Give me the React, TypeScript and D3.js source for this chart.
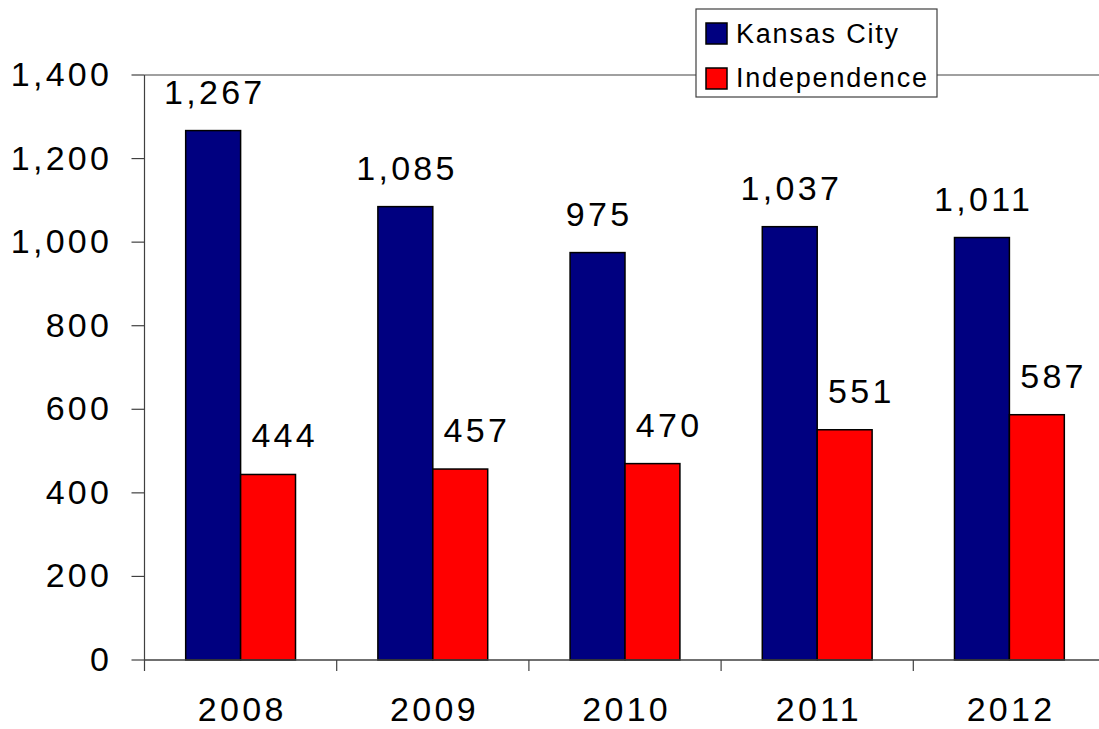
import React from "react";
import * as d3 from "d3";

const years = ["2008", "2009", "2010", "2011", "2012"];
const seriesNames = ["Kansas City", "Independence"];
const kansasCity = [1267, 1085, 975, 1037, 1011];
const independence = [444, 457, 470, 551, 587];
const seriesColors = ["#000080", "#FF0000"];
const yTicks = [0, 200, 400, 600, 800, 1000, 1200, 1400];

const W = 1099;
const H = 729;
const left = 144.5;
const right = 1105.5;
const top = 75;
const bottom = 660;

const FONT = "'Liberation Sans', Arial, sans-serif";
const FS = 34;
const LS = 3.3;
const labelShift = [0, 15];

export default function App() {
  const x0 = d3.scaleBand<string>().domain(years).range([left, right]).paddingInner(0).paddingOuter(0);
  const x1 = d3
    .scaleBand<string>()
    .domain(seriesNames)
    .range([0, x0.bandwidth()])
    .paddingInner(0)
    .paddingOuter(0.75);
  const y = d3.scaleLinear().domain([0, 1400]).range([bottom, top]);
  const fmt = d3.format(",");
  const values = [kansasCity, independence];
  const axisColor = "#808080";

  return (
    <svg
      width={W}
      height={H}
      style={{ position: "fixed", left: 0, top: 0, background: "#fff" }}
      fontFamily={FONT}
    >
      <rect x={0} y={0} width={W} height={H} fill="#fff" />
      {/* top border line */}
      <line x1={left} x2={W} y1={y(1400)} y2={y(1400)} stroke={axisColor} strokeWidth={1.5} />
      {/* left axis */}
      <line x1={left} x2={left} y1={top} y2={bottom + 11} stroke="#404040" strokeWidth={1.2} />
      {yTicks.map((t) => (
        <g key={t}>
          <line x1={left - 13} x2={left} y1={y(t)} y2={y(t)} stroke="#404040" strokeWidth={1.2} />
          <text
            x={109 + LS}
            y={y(t) + 11}
            textAnchor="end"
            fontSize={FS}
            letterSpacing={LS}
            fill="#000"
          >
            {fmt(t)}
          </text>
        </g>
      ))}
      {/* bars */}
      {years.map((yr, i) => (
        <g key={yr}>
          {seriesNames.map((s, j) => {
            const v = values[j][i];
            const bx = (x0(yr) as number) + (x1(s) as number);
            const bw = x1.bandwidth();
            return (
              <g key={s}>
                <rect
                  x={bx}
                  y={y(v)}
                  width={bw}
                  height={bottom - y(v)}
                  fill={seriesColors[j]}
                  stroke="#000"
                  strokeWidth={1.5}
                />
                <text
                  x={bx + bw / 2 + LS / 2 + labelShift[j]}
                  y={y(v) - 27}
                  textAnchor="middle"
                  fontSize={FS}
                  letterSpacing={LS}
                  fill="#000"
                >
                  {fmt(v)}
                </text>
              </g>
            );
          })}
        </g>
      ))}
      {/* bottom axis */}
      <line x1={left} x2={W} y1={bottom} y2={bottom} stroke="#404040" strokeWidth={1.5} />
      {years.map((yr) => (
        <line
          key={"t" + yr}
          x1={(x0(yr) as number) + x0.bandwidth()}
          x2={(x0(yr) as number) + x0.bandwidth()}
          y1={bottom}
          y2={bottom + 11}
          stroke="#404040"
          strokeWidth={1.2}
        />
      ))}
      {years.map((yr) => (
        <text
          key={"l" + yr}
          x={(x0(yr) as number) + x0.bandwidth() / 2 + LS / 2}
          y={721}
          textAnchor="middle"
          fontSize={FS}
          letterSpacing={LS}
          fill="#000"
        >
          {yr}
        </text>
      ))}
      {/* legend */}
      <g>
        <rect x={696} y={9} width={241} height={88} fill="#fff" stroke="#404040" strokeWidth={1.2} />
        {seriesNames.map((s, j) => (
          <g key={s}>
            <rect
              x={706}
              y={23 + j * 45}
              width={21}
              height={21}
              fill={seriesColors[j]}
              stroke="#000"
              strokeWidth={1.5}
            />
            <text x={736} y={43 + j * 44} fontSize={27} letterSpacing={1.8} fill="#000">
              {s}
            </text>
          </g>
        ))}
      </g>
    </svg>
  );
}
